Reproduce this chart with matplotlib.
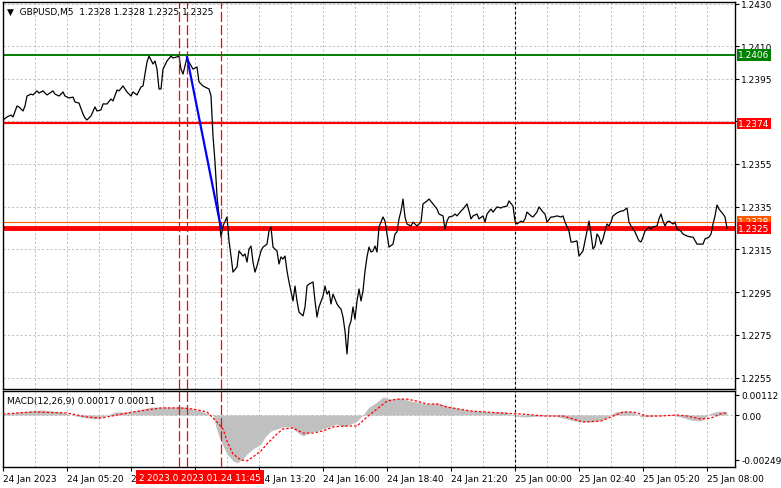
import matplotlib
matplotlib.use('Agg')
import matplotlib.pyplot as plt
import matplotlib.transforms as mtransforms

# GBPUSD M5, bar index counted from 24 Jan 2023 02:40 (5 minutes per bar)
price_bar = [0, 2, 4, 5, 7, 8, 10, 11, 12, 14, 15, 17, 18, 20, 22, 25, 26, 28, 30, 31,
             33, 35, 36, 38, 40, 41, 42, 44, 46, 47, 49, 50, 52, 54, 55, 57, 58, 60, 62, 64,
             65, 67, 69, 70, 72, 73, 75, 76, 77, 78, 79, 80, 82, 84, 85, 87, 88, 89, 90, 91,
             92, 93, 95, 97, 98, 100, 101, 103, 104, 105, 106, 107, 108, 109, 110, 112, 113, 114, 115, 117,
             118, 120, 121, 122, 123, 124, 125, 126, 127, 129, 130, 132, 133, 134, 135, 137, 138, 139, 140, 141,
             142, 143, 145, 146, 147, 148, 150, 151, 152, 153, 155, 156, 157, 158, 160, 161, 162, 163, 164, 165,
             167, 168, 169, 170, 171, 172, 173, 174, 175, 176, 177, 178, 179, 180, 181, 182, 183, 184, 185, 186,
             187, 188, 190, 191, 192, 193, 195, 196, 197, 198, 199, 200, 201, 202, 204, 205, 207, 209, 210, 212,
             213, 215, 217, 218, 220, 221, 222, 223, 225, 226, 227, 229, 230, 232, 233, 234, 235, 237, 238, 240,
             241, 242, 244, 245, 247, 249, 250, 252, 253, 255, 256, 257, 259, 260, 261, 262, 264, 265, 267, 268,
             270, 271, 272, 274, 275, 277, 279, 280, 281, 283, 284, 285, 287, 288, 290, 291, 292, 293, 294, 295,
             296, 297, 298, 299, 300, 301, 302, 303, 304, 305, 307, 308, 309, 310, 312, 313, 314, 315, 316, 318,
             319, 320, 321, 323, 324, 325, 327, 328, 329, 330, 331, 332, 333, 335, 336, 337, 339, 340, 342, 344,
             345, 347, 348, 350, 351, 353, 354, 355, 356, 357, 358, 360, 361, 362]
price_close = [1.23756, 1.23770, 1.23779, 1.23770, 1.23821, 1.23817, 1.23798, 1.23821, 1.23868, 1.23877,
               1.23873, 1.23892, 1.23882, 1.23892, 1.23873, 1.23892, 1.23877, 1.23868, 1.23887, 1.23868,
               1.23859, 1.23863, 1.23840, 1.23835, 1.23784, 1.23765, 1.23756, 1.23775, 1.23817, 1.23798,
               1.23803, 1.23831, 1.23831, 1.23854, 1.23845, 1.23896, 1.23892, 1.23915, 1.23887, 1.23868,
               1.23887, 1.23873, 1.23910, 1.23915, 1.24027, 1.24055, 1.24018, 1.24032, 1.23994, 1.23901,
               1.23901, 1.23994, 1.24032, 1.24055, 1.24046, 1.24051, 1.24055, 1.23994, 1.23971, 1.24009,
               1.24051, 1.24027, 1.23994, 1.24004, 1.23934, 1.23915, 1.23910, 1.23901, 1.23868, 1.23681,
               1.23559, 1.23400, 1.23307, 1.23208, 1.23260, 1.23302, 1.23190, 1.23119, 1.23044, 1.23068,
               1.23143, 1.23119, 1.23129, 1.23091, 1.23152, 1.23166, 1.23091, 1.23044, 1.23073, 1.23143,
               1.23161, 1.23175, 1.23236, 1.23255, 1.23161, 1.23143, 1.23082, 1.23115, 1.23105, 1.23119,
               1.23049, 1.22998, 1.22909, 1.22979, 1.22909, 1.22857, 1.22839, 1.22881, 1.22979, 1.22988,
               1.22998, 1.22909, 1.22834, 1.22881, 1.22932, 1.22979, 1.22941, 1.22956, 1.22895, 1.22941,
               1.22895, 1.22881, 1.22871, 1.22834, 1.22768, 1.22661, 1.22787, 1.22815, 1.22881, 1.22824,
               1.22909, 1.22965, 1.22909, 1.22956, 1.23049, 1.23115, 1.23161, 1.23138, 1.23143, 1.23166,
               1.23138, 1.23255, 1.23302, 1.23283, 1.23222, 1.23161, 1.23175, 1.23222, 1.23232, 1.23293,
               1.23330, 1.23386, 1.23302, 1.23269, 1.23260, 1.23278, 1.23260, 1.23278, 1.23363, 1.23377,
               1.23386, 1.23363, 1.23339, 1.23316, 1.23307, 1.23246, 1.23283, 1.23302, 1.23307, 1.23316,
               1.23307, 1.23330, 1.23339, 1.23363, 1.23330, 1.23293, 1.23307, 1.23316, 1.23293, 1.23307,
               1.23278, 1.23316, 1.23339, 1.23325, 1.23349, 1.23344, 1.23349, 1.23353, 1.23377, 1.23353,
               1.23283, 1.23269, 1.23283, 1.23278, 1.23293, 1.23325, 1.23307, 1.23302, 1.23325, 1.23349,
               1.23325, 1.23316, 1.23278, 1.23302, 1.23302, 1.23307, 1.23302, 1.23307, 1.23278, 1.23236,
               1.23185, 1.23185, 1.23190, 1.23119, 1.23143, 1.23190, 1.23236, 1.23283, 1.23222, 1.23152,
               1.23166, 1.23222, 1.23208, 1.23175, 1.23199, 1.23236, 1.23269, 1.23260, 1.23278, 1.23307,
               1.23321, 1.23325, 1.23330, 1.23330, 1.23344, 1.23278, 1.23260, 1.23246, 1.23232, 1.23190,
               1.23185, 1.23208, 1.23236, 1.23255, 1.23246, 1.23255, 1.23260, 1.23293, 1.23316, 1.23283,
               1.23260, 1.23278, 1.23283, 1.23269, 1.23278, 1.23246, 1.23236, 1.23222, 1.23213, 1.23208,
               1.23208, 1.23175, 1.23175, 1.23175, 1.23199, 1.23208, 1.23222, 1.23269, 1.23307, 1.23358,
               1.23339, 1.23316, 1.23302, 1.23250]

# MACD(12,26,9): main line (histogram) and signal line
macd_bar = [0, 9, 19, 29, 34, 39, 46, 51, 56, 64, 74, 81, 91, 99, 103, 105, 107, 110, 112, 115,
            117, 120, 122, 125, 129, 131, 134, 137, 140, 144, 147, 150, 154, 157, 160, 164, 167, 170, 174, 177,
            180, 183, 187, 190, 194, 199, 204, 207, 212, 217, 222, 229, 236, 244, 251, 256, 261, 269, 276, 282,
            286, 294, 301, 306, 311, 315, 319, 326, 333, 339, 344, 349, 354, 358, 362]
macd_main = [0.000055, 0.00017, 0.00028, 0.00017, 0.0, -0.00011, -0.00022, -0.000055, 0.00017, 0.00017,
             0.00044, 0.00044, 0.00044, 0.00022, 0.000055, 0.0, -0.00088, -0.00171, -0.00216, -0.00254,
             -0.00265, -0.00243, -0.00216, -0.00188, -0.00160, -0.00122, -0.00088, -0.00077, -0.00066, -0.00066,
             -0.00094, -0.00116, -0.00094, -0.00088, -0.00077, -0.00061, -0.00050, -0.00066, -0.00050, -0.00033,
             0.0, 0.00044, 0.00072, 0.00100, 0.00088, 0.00094, 0.00077, 0.00072, 0.00061, 0.00066,
             0.00050, 0.00033, 0.00022, 0.00017, 0.00017, -0.000055, -0.00011, -0.000055, -0.000055, -0.00022,
             -0.00033, -0.00039, -0.00022, 0.00017, 0.00022, 0.00017, -0.00011, -0.000055, 0.0, -0.00011,
             -0.00028, -0.00033, 0.00011, 0.00022, 0.00017]
signal_bar = [0, 15, 32, 42, 49, 57, 65, 79, 89, 95, 102, 107, 110, 112, 115, 119, 122, 125, 129, 132,
              137, 140, 145, 150, 155, 160, 165, 170, 177, 182, 187, 192, 197, 202, 207, 212, 217, 222, 234, 249,
              259, 271, 280, 285, 290, 299, 304, 310, 315, 322, 329, 337, 342, 349, 354, 360, 362]
signal_value = [0.000055, 0.00017, 0.00011, -0.00011, -0.00017, 0.0, 0.00017, 0.00039, 0.00039, 0.00033,
                0.00017, -0.00039, -0.00077, -0.00144, -0.00216, -0.00249, -0.00254, -0.00232, -0.00199, -0.00160,
                -0.00105, -0.00077, -0.00072, -0.00100, -0.00100, -0.00088, -0.00066, -0.00061, -0.00061, -0.00011,
                0.00033, 0.00077, 0.00088, 0.00088, 0.00077, 0.00061, 0.00061, 0.00044, 0.00022, 0.00011,
                0.000055, -0.000055, -0.000055, -0.00022, -0.00039, -0.00033, -0.00011, 0.00017, 0.00017, -0.000055,
                -0.000055, 0.0, -0.000055, -0.00022, -0.00017, 0.00011, 0.00011]

# levels and trade markers
levels = [1.2406, 1.2374, 1.2328, 1.2325]
level_text = ["1.2406", "1.2374", "1.2328", "1.2325"]
trend_bar = [92, 109]
trend_price = [1.2405, 1.2325]
marker_bar = [88, 92, 109]
marker_text = ["2023.01.24 10:00", "2023.01.24 10:20", "2023.01.24 11:45"]
day_sep_bar = 256

tick_bar = [0, 32, 64, 96, 128, 160, 192, 224, 256, 288, 320, 352]
tick_text = ["24 Jan 2023", "24 Jan 05:20", "24 Jan 08:00", "24 Jan 10:40", "24 Jan 13:20",
             "24 Jan 16:00", "24 Jan 18:40", "24 Jan 21:20", "25 Jan 00:00", "25 Jan 02:40",
             "25 Jan 05:20", "25 Jan 08:00"]
price_ticks = [1.2430, 1.2410, 1.2395, 1.2375, 1.2355, 1.2335, 1.2315, 1.2295, 1.2275, 1.2255]
price_tick_text = ["1.2430", "1.2410", "1.2395", "", "1.2355", "1.2335", "1.2315", "1.2295", "1.2275", "1.2255"]
macd_ticks = [0.00112, 0.0, -0.00249]
macd_tick_text = ["0.00112", "0.00", "-0.00249"]

FS = 6.5
GRID = '#c0c0c0'
W, H = 781, 489

fig = plt.figure(figsize=(W / 100, H / 100), dpi=100)
ax = fig.add_axes([3 / W, 99 / H, 732 / W, 387 / H])
axm = fig.add_axes([3 / W, 21 / H, 732 / W, 76 / H])

for a in (ax, axm):
    a.set_xlim(0, 366)
    for s in a.spines.values():
        s.set_color('black')
        s.set_linewidth(1.0)
    for b in range(16, 366, 16):
        a.axvline(b, color=GRID, lw=0.7, dashes=(2.2, 2.2), zorder=0)
    a.axvline(day_sep_bar, color='black', lw=0.8, dashes=(2.5, 2), zorder=1)
    for b in marker_bar:
        a.axvline(b, color='red', lw=0.9, dashes=(8, 2.5), zorder=4)
    a.yaxis.tick_right()
    a.tick_params(axis='y', direction='out', length=3, width=0.8, labelsize=FS, pad=1.5)

# main price panel
ax.set_ylim(1.22497, 1.24308)
ax.set_yticks(price_ticks)
ax.set_yticklabels(price_tick_text)
for p in price_ticks:
    ax.axhline(p, color=GRID, lw=0.7, dashes=(2.2, 2.2), zorder=0)
ax.set_xticks([])

level_colors = ['#008000', '#ff0000', '#ff5a00', '#ff0000']
level_widths = [1.4, 1.6, 0.8, 3.5]
for lv, c, w in zip(levels, level_colors, level_widths):
    ax.axhline(lv, color=c, lw=w, zorder=2)

ax.plot(price_bar, price_close, color='black', lw=0.9, zorder=3)
ax.plot(trend_bar, trend_price, color='#0000ff', lw=1.6, zorder=5)

ytrans = mtransforms.blended_transform_factory(ax.transAxes, ax.transData)
for lv, txt, c in zip(levels, level_text, level_colors):
    ax.text(1.0045, lv, txt, transform=ytrans, color='white', fontsize=FS, ha='left', va='center',
            clip_on=False, zorder=10,
            bbox=dict(facecolor=c, edgecolor='none', boxstyle='square,pad=0.15'))

ax.text(0.006, 0.988, "\u25bc  GBPUSD,M5  1.2328 1.2328 1.2325 1.2325", transform=ax.transAxes,
        fontsize=FS, ha='left', va='top', color='black', zorder=10)

# MACD panel
axm.set_ylim(-0.00288, 0.00133)
axm.fill_between(macd_bar, 0, macd_main, color='#c0c0c0', lw=0, zorder=2)
axm.plot(signal_bar, signal_value, color='red', lw=0.9, dashes=(2, 1.5), zorder=3)
axm.axhline(0, color=GRID, lw=0.7, dashes=(2.2, 2.2), zorder=1)
axm.set_yticks(macd_ticks)
axm.set_yticklabels(macd_tick_text)
axm.text(0.006, 0.93, "MACD(12,26,9) 0.00017 0.00011", transform=axm.transAxes,
         fontsize=FS, ha='left', va='top', color='black', zorder=10)

axm.set_xticks(tick_bar)
axm.set_xticklabels(tick_text)
axm.tick_params(axis='x', direction='out', length=3, width=0.8, labelsize=FS, pad=2)
for lab in axm.get_xticklabels():
    lab.set_horizontalalignment('left')

# trade time labels, drawn over the time axis like the terminal does
xtrans = mtransforms.blended_transform_factory(axm.transData, axm.transAxes)
for b, txt in zip(marker_bar, marker_text):
    axm.text(b, -0.135, txt, transform=xtrans, color='white', fontsize=FS, ha='center', va='center',
             clip_on=False, zorder=10,
             bbox=dict(facecolor='#ff0000', edgecolor='none', boxstyle='square,pad=0.3'))

fig.savefig('out.png', dpi=100)
